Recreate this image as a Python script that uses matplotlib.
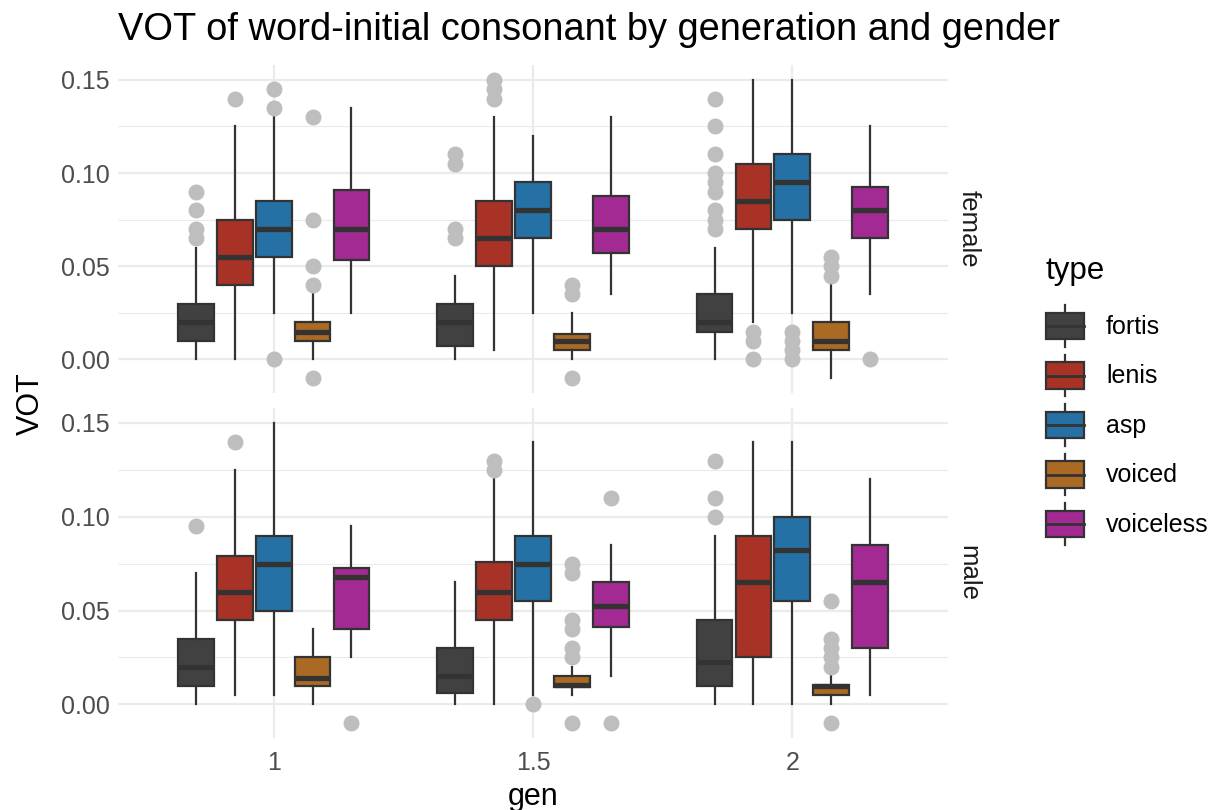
import matplotlib
matplotlib.use("Agg")
import matplotlib.pyplot as plt
from matplotlib.patches import Rectangle, Patch
from matplotlib.lines import Line2D
from matplotlib.legend_handler import HandlerBase
from matplotlib.ticker import MultipleLocator

plt.rcParams['font.family'] = ['Liberation Sans', 'DejaVu Sans']

gens = ["1", "1.5", "2"]
types = ["fortis", "lenis", "asp", "voiced", "voiceless"]
colors = ["#414141", "#A93226", "#2571A5", "#AB6A23", "#A32A93"]
genders = ["female", "male"]

# stats[gender][gen][type] = (whislo, q1, med, q3, whishi)
female_stats = [
    [(0, 0.01, 0.02, 0.03, 0.06), (0, 0.04, 0.055, 0.075, 0.125), (0.025, 0.055, 0.07, 0.085, 0.13),
     (0, 0.01, 0.015, 0.02, 0.035), (0.025, 0.0535, 0.07, 0.091, 0.135)],
    [(0, 0.007, 0.02, 0.03, 0.045), (0.005, 0.05, 0.065, 0.085, 0.13), (0.025, 0.065, 0.08, 0.095, 0.12),
     (0, 0.005, 0.01, 0.0135, 0.025), (0.035, 0.057, 0.07, 0.0875, 0.13)],
    [(0, 0.015, 0.02, 0.035, 0.06), (0.02, 0.07, 0.085, 0.105, 0.15), (0.025, 0.075, 0.095, 0.11, 0.15),
     (-0.01, 0.005, 0.01, 0.02, 0.04), (0.035, 0.065, 0.08, 0.0925, 0.125)],
]
female_fliers = [
    [[0.065, 0.07, 0.08, 0.09], [0.14], [0, 0.135, 0.145], [-0.01, 0.04, 0.05, 0.075, 0.13], []],
    [[0.065, 0.07, 0.105, 0.11], [0.14, 0.145, 0.15], [], [-0.01, 0.035, 0.04], []],
    [[0.07, 0.075, 0.08, 0.09, 0.095, 0.1, 0.11, 0.125, 0.14], [0, 0.01, 0.015], [0, 0.005, 0.01, 0.015],
     [0.045, 0.05, 0.055], [0]],
]
male_stats = [
    [(0, 0.01, 0.02, 0.035, 0.07), (0.005, 0.045, 0.06, 0.079, 0.125), (0.005, 0.05, 0.075, 0.09, 0.15),
     (0, 0.01, 0.014, 0.025, 0.04), (0.025, 0.04, 0.068, 0.0725, 0.095)],
    [(0, 0.006, 0.015, 0.03, 0.065), (0, 0.045, 0.06, 0.076, 0.12), (0.005, 0.055, 0.075, 0.09, 0.14),
     (0.005, 0.009, 0.0105, 0.015, 0.02), (0.015, 0.041, 0.0525, 0.065, 0.085)],
    [(0, 0.01, 0.0225, 0.045, 0.09), (0, 0.025, 0.065, 0.09, 0.14), (0, 0.055, 0.0825, 0.1, 0.14),
     (0, 0.005, 0.0095, 0.0105, 0.015), (0.005, 0.03, 0.065, 0.085, 0.12)],
]
male_fliers = [
    [[0.095], [0.14], [], [], [-0.01]],
    [[], [0.125, 0.13], [0], [-0.01, 0.025, 0.03, 0.04, 0.045, 0.07, 0.075], [-0.01, 0.11]],
    [[0.1, 0.11, 0.13], [], [], [-0.01, 0.02, 0.025, 0.03, 0.035, 0.055], []],
]
all_stats = {"female": female_stats, "male": male_stats}
all_fliers = {"female": female_fliers, "male": male_fliers}

W, H = 1215, 810
fig = plt.figure(figsize=(W / 100, H / 100), dpi=100)
fig.patch.set_facecolor("white")

L, R = 118, 948
panels = {"female": (65, 393), "male": (408, 738)}

dodge = 0.15
bw = 0.138
edge = "#333333"

for gi, g in enumerate(genders):
    top, bot = panels[g]
    ax = fig.add_axes([L / W, 1 - bot / H, (R - L) / W, (bot - top) / H])
    ax.set_facecolor("white")
    for s in ax.spines.values():
        s.set_visible(False)
    ax.set_xlim(0.4, 3.6)
    ax.set_ylim(-0.018, 0.158)
    ax.yaxis.set_major_locator(MultipleLocator(0.05))
    ax.yaxis.set_minor_locator(MultipleLocator(0.025))
    ax.grid(True, which="major", color="#EBEBEB", linewidth=1.6, zorder=0)
    ax.grid(True, which="minor", axis="y", color="#EBEBEB", linewidth=0.8, zorder=0)
    ax.set_axisbelow(True)
    ax.set_xticks([1, 2, 3])
    ax.tick_params(axis="both", which="both", length=0, labelsize=18, labelcolor="#4D4D4D", pad=6)
    ax.set_yticks([0, 0.05, 0.10, 0.15])
    ax.set_yticklabels(["0.00", "0.05", "0.10", "0.15"])
    if gi == 0:
        ax.set_xticklabels([])
    else:
        ax.set_xticklabels(gens)
        ax.tick_params(axis="x", pad=9)
    for k, gen in enumerate(gens):
        for t in range(len(types)):
            wl, q1, med, q3, wh = all_stats[g][k][t]
            st = [dict(whislo=wl, q1=q1, med=med, q3=q3, whishi=wh, fliers=all_fliers[g][k][t])]
            pos = k + 1 + (t - 2) * dodge
            ax.bxp(st, positions=[pos], widths=bw, patch_artist=True, showcaps=False,
                   boxprops=dict(facecolor=colors[t], edgecolor=edge, linewidth=1.6),
                   medianprops=dict(color=edge, linewidth=3.8, solid_capstyle="butt"),
                   whiskerprops=dict(color=edge, linewidth=1.6),
                   flierprops=dict(marker="o", markerfacecolor="#BEBEBE", markeredgecolor="#BEBEBE",
                                   markersize=10.5, linestyle="none"),
                   manage_ticks=False, zorder=3)
    ax.text(1.01, 0.5, g, transform=ax.transAxes, rotation=-90, ha="left", va="center",
            fontsize=18.5, color="#1A1A1A")

fig.text(L / W, 1 - 30 / H, "VOT of word-initial consonant by generation and gender",
         fontsize=27.4, ha="left", va="center", color="black")
fig.text(31 / W, 1 - 404 / H, "VOT", fontsize=22, rotation=90, ha="center", va="center")
fig.text((L + R) / 2 / W, 1 - 797 / H, "gen", fontsize=22, ha="center", va="center")


class BoxHandler(HandlerBase):
    def create_artists(self, legend, orig_handle, xdescent, ydescent, width, height, fontsize, trans):
        x0, y0 = -xdescent, -ydescent
        fc = orig_handle.get_facecolor()
        bh = 0.54 * height
        by = y0 + (height - bh) / 2
        rect = Rectangle((x0, by), width, bh, facecolor=fc, edgecolor=edge, linewidth=1.6, transform=trans)
        med = Line2D([x0, x0 + width], [y0 + height / 2] * 2, color=edge, linewidth=2.0, transform=trans)
        w1 = Line2D([x0 + width / 2] * 2, [y0 + 0.08 * height, by], color=edge, linewidth=1.6, transform=trans)
        w2 = Line2D([x0 + width / 2] * 2, [by + bh, y0 + 0.92 * height], color=edge, linewidth=1.6,
                    transform=trans)
        return [w1, w2, rect, med]


handles = [Patch(facecolor=c) for c in colors]
leg = fig.legend(handles, types, handler_map={Patch: BoxHandler()}, loc="upper left",
                 bbox_to_anchor=(1046 / W, 1 - 256 / H), frameon=False, fontsize=18,
                 title="type", title_fontsize=22.5, handlelength=1.52, handleheight=2.67,
                 labelspacing=0.0, handletextpad=0.88, borderaxespad=0, borderpad=0,
                 alignment="left")
leg._legend_box.sep = 11

fig.savefig("out.png", dpi=100)
